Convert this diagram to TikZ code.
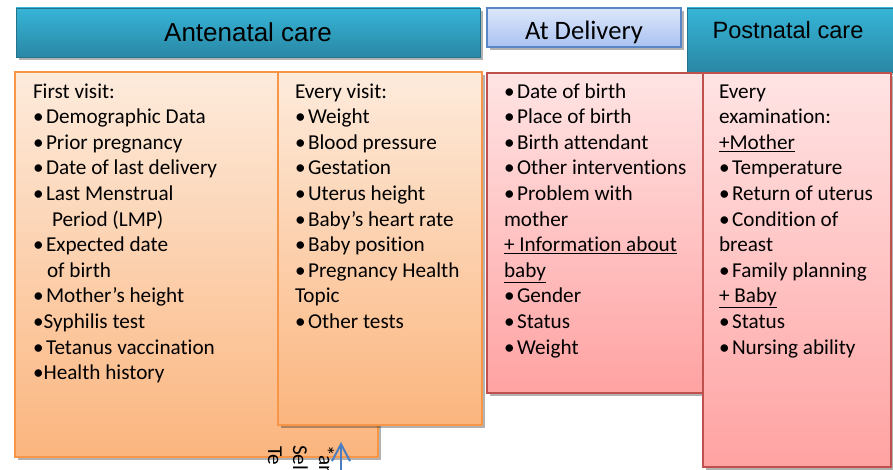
\documentclass[tikz,border=0pt]{standalone}
\usepackage{fontspec}
\setmainfont[Ligatures=NoCommon]{Carlito}
\newfontfamily\arialfont{Liberation Sans}
\usepackage{xcolor}
\usetikzlibrary{shadows,arrows.meta}

\definecolor{tealtop}{HTML}{36B5D7}
\definecolor{tealbot}{HTML}{2A87A5}
\definecolor{bluetop}{HTML}{DDE7FA}
\definecolor{bluebot}{HTML}{A9C2F1}
\definecolor{blueline}{HTML}{5B86C6}
\definecolor{orangetop}{HTML}{FDEBDC}
\definecolor{orangebot}{HTML}{FBB57E}
\definecolor{orangeline}{HTML}{F79646}
\definecolor{pinktop}{HTML}{FFE4E4}
\definecolor{pinkbot}{HTML}{FFA2A2}
\definecolor{pinkline}{HTML}{C0504D}
\definecolor{arrowblue}{HTML}{4A7EC0}

\newcommand{\bodysize}{\fontsize{21.2}{25.6}\selectfont}
\newcommand{\bul}{•\kern2.5pt}

\begin{document}
\begin{tikzpicture}
    [x=1pt,y=-1pt,
      every node/.style={inner sep=0pt,outer sep=0pt},
      softshadow/.style={drop shadow={shadow xshift=2.5pt,shadow yshift=-3pt,opacity=.3,fill=black}},
      header/.style={rectangle,anchor=north west,draw=tealbot!85!black,line width=.6pt,
        top color=tealtop,bottom color=tealbot,softshadow,font=\arialfont\fontsize{26}{30}\selectfont},
      subheader/.style={rectangle,anchor=north west,draw=blueline,line width=1.2pt,
        top color=bluetop,bottom color=bluebot,softshadow},
      antebox/.style={rectangle,anchor=north west,draw=orangeline,line width=1.4pt,
        top color=orangetop,bottom color=orangebot,softshadow},
      postbox/.style={rectangle,anchor=north west,draw=pinkline,line width=1.4pt,
        top color=pinktop,bottom color=pinkbot,softshadow},
      listtext/.style={anchor=north west,align=left,font=\bodysize},
      sidetext/.style={anchor=base west,rotate=-90,font=\bodysize},
      pointer/.style={draw=arrowblue,line width=2pt,-{Straight Barb[length=17pt,width=18pt,line width=2pt]}}]
    \useasboundingbox (0,0) rectangle (893,470);
    % column headers
    \node[header,minimum width=464pt,minimum height=49pt] (ante) at (16,8) {Antenatal care};
    \node[subheader,minimum width=194pt,minimum height=39pt] (deliv) at (487,8) {};
    \node[anchor=base,font=\fontsize{26.6}{30}\selectfont] (delivlbl) at (584,39.5) {At Delivery};
    \node[header,minimum width=212pt,minimum height=64pt] (postn) at (687,8) {};
    \node[font=\arialfont\fontsize{23.6}{28}\selectfont] (postnlbl) at (788,30) {Postnatal care};
    % boxes
    \node[antebox,minimum width=363pt,minimum height=385pt] (first) at (15,72) {};
    \node[antebox,minimum width=204pt,minimum height=353pt] (every) at (278,72) {};
    \node[postbox,minimum width=216pt,minimum height=320pt] (birth) at (487,73) {};
    \node[postbox,minimum width=188pt,minimum height=394pt] (exam) at (703,73) {};
    % lists
    \node[listtext] (firsttxt) at (33,80.1) {\strut First visit:\\
      \bul Demographic Data\\
      \bul Prior pregnancy\\
      \bul Date of last delivery\\
      \bul Last Menstrual\\
      \hspace*{19pt}Period (LMP)\\
      \bul Expected date\\
      \hspace*{14pt}of birth\\
      \bul Mother’s height\\
      •Syphilis test\\
      \bul Tetanus vaccination\\
      •Health history};
    \node[listtext] (everytxt) at (295,80.1) {\strut Every visit:\\
      \bul Weight\\
      \bul Blood pressure\\
      \bul Gestation\\
      \bul Uterus height\\
      \bul Baby’s heart rate\\
      \bul Baby position\\
      \bul Pregnancy Health\\
      Topic\\
      \bul Other tests};
    \node[listtext] (birthtxt) at (504,80.1) {\strut \bul Date of birth\\
      \bul Place of birth\\
      \bul Birth attendant\\
      \bul Other interventions\\
      \bul Problem with\\
      mother\\
      \underline{+ Information about}\\
      \underline{baby}\\
      \bul Gender\\
      \bul Status\\
      \bul Weight};
    \node[listtext] (examtxt) at (719,80.1) {\strut Every\\
      examination:\\
      \underline{+Mother}\\
      \bul Temperature\\
      \bul Return of uterus\\
      \bul Condition of\\
      breast\\
      \bul Family planning\\
      \underline{+ Baby}\\
      \bul Status\\
      \bul Nursing ability};
    % cut-off notes at the bottom
    \node[sidetext] (noteone) at (268,446) {Te};
    \node[sidetext] (notetwo) at (293,445) {Sel};
    \node[sidetext] (notethree) at (319,445) {*an};
    \coordinate (arrowfoot) at (341,474);
    \coordinate (arrowtip) at (341,442);
    \draw[pointer] (arrowfoot) -- (arrowtip);
\end{tikzpicture}
\end{document}
